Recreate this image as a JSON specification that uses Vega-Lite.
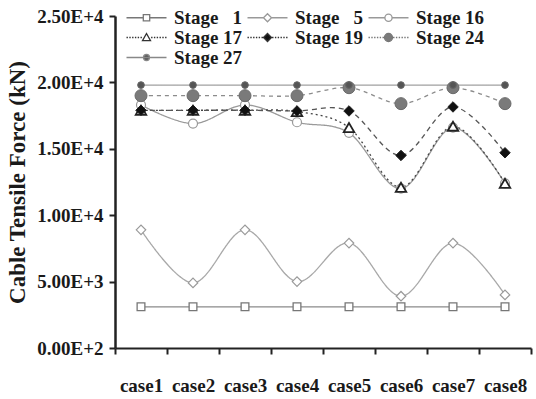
{
  "$schema": "https://vega.github.io/schema/vega-lite/v6.json",
  "width": 416,
  "height": 332,
  "autosize": {"type": "none"},
  "padding": {"left": 115, "top": 16, "right": 5, "bottom": 51},
  "background": "white",
  "config": {
    "view": {"stroke": null},
    "font": "Liberation Serif",
    "axis": {
      "labelFont": "Liberation Serif",
      "labelFontWeight": "bold",
      "labelFontSize": 19,
      "labelColor": "#1a1a1a",
      "titleFont": "Liberation Serif",
      "titleFontWeight": "bold",
      "titleColor": "#1a1a1a",
      "domainColor": "#222",
      "tickColor": "#222",
      "grid": false
    }
  },
  "data": {
    "values": [
      {"case": "case1", "stage": "Stage 1", "force": 3100},
      {"case": "case2", "stage": "Stage 1", "force": 3100},
      {"case": "case3", "stage": "Stage 1", "force": 3100},
      {"case": "case4", "stage": "Stage 1", "force": 3100},
      {"case": "case5", "stage": "Stage 1", "force": 3100},
      {"case": "case6", "stage": "Stage 1", "force": 3100},
      {"case": "case7", "stage": "Stage 1", "force": 3100},
      {"case": "case8", "stage": "Stage 1", "force": 3100},
      {"case": "case1", "stage": "Stage 5", "force": 8900},
      {"case": "case2", "stage": "Stage 5", "force": 4900},
      {"case": "case3", "stage": "Stage 5", "force": 8900},
      {"case": "case4", "stage": "Stage 5", "force": 5000},
      {"case": "case5", "stage": "Stage 5", "force": 7900},
      {"case": "case6", "stage": "Stage 5", "force": 3900},
      {"case": "case7", "stage": "Stage 5", "force": 7900},
      {"case": "case8", "stage": "Stage 5", "force": 4000},
      {"case": "case1", "stage": "Stage 16", "force": 18300},
      {"case": "case2", "stage": "Stage 16", "force": 16900},
      {"case": "case3", "stage": "Stage 16", "force": 18300},
      {"case": "case4", "stage": "Stage 16", "force": 17000},
      {"case": "case5", "stage": "Stage 16", "force": 16200},
      {"case": "case6", "stage": "Stage 16", "force": 12000},
      {"case": "case7", "stage": "Stage 16", "force": 16600},
      {"case": "case8", "stage": "Stage 16", "force": 12400},
      {"case": "case1", "stage": "Stage 17", "force": 17900},
      {"case": "case2", "stage": "Stage 17", "force": 17900},
      {"case": "case3", "stage": "Stage 17", "force": 17900},
      {"case": "case4", "stage": "Stage 17", "force": 17800},
      {"case": "case5", "stage": "Stage 17", "force": 16600},
      {"case": "case6", "stage": "Stage 17", "force": 12100},
      {"case": "case7", "stage": "Stage 17", "force": 16700},
      {"case": "case8", "stage": "Stage 17", "force": 12400},
      {"case": "case1", "stage": "Stage 19", "force": 17900},
      {"case": "case2", "stage": "Stage 19", "force": 17900},
      {"case": "case3", "stage": "Stage 19", "force": 17900},
      {"case": "case4", "stage": "Stage 19", "force": 17850},
      {"case": "case5", "stage": "Stage 19", "force": 17850},
      {"case": "case6", "stage": "Stage 19", "force": 14500},
      {"case": "case7", "stage": "Stage 19", "force": 18150},
      {"case": "case8", "stage": "Stage 19", "force": 14700},
      {"case": "case1", "stage": "Stage 24", "force": 19000},
      {"case": "case2", "stage": "Stage 24", "force": 19000},
      {"case": "case3", "stage": "Stage 24", "force": 19000},
      {"case": "case4", "stage": "Stage 24", "force": 19000},
      {"case": "case5", "stage": "Stage 24", "force": 19600},
      {"case": "case6", "stage": "Stage 24", "force": 18400},
      {"case": "case7", "stage": "Stage 24", "force": 19600},
      {"case": "case8", "stage": "Stage 24", "force": 18400},
      {"case": "case1", "stage": "Stage 27", "force": 19800},
      {"case": "case2", "stage": "Stage 27", "force": 19800},
      {"case": "case3", "stage": "Stage 27", "force": 19800},
      {"case": "case4", "stage": "Stage 27", "force": 19800},
      {"case": "case5", "stage": "Stage 27", "force": 19800},
      {"case": "case6", "stage": "Stage 27", "force": 19800},
      {"case": "case7", "stage": "Stage 27", "force": 19800},
      {"case": "case8", "stage": "Stage 27", "force": 19800}
    ]
  },
  "encoding": {
    "x": {
      "field": "case",
      "type": "nominal",
      "scale": {
        "type": "band",
        "paddingInner": 0,
        "paddingOuter": 0,
        "domain": ["case1", "case2", "case3", "case4", "case5", "case6", "case7", "case8"]
      },
      "axis": {
        "title": null,
        "labelAngle": 0,
        "tickBand": "extent",
        "tickSize": 6,
        "tickWidth": 2,
        "domainWidth": 2,
        "labelPadding": 22
      }
    },
    "y": {
      "field": "force",
      "type": "quantitative",
      "scale": {"domain": [0, 25000], "nice": false},
      "axis": {
        "title": "Cable Tensile Force (kN)",
        "titleFontSize": 23,
        "titlePadding": 7,
        "values": [0, 5000, 10000, 15000, 20000, 25000],
        "labelExpr": "datum.value == 0 ? '0.00E+2' : upper(format(datum.value, '.2e'))",
        "tickSize": 6,
        "tickWidth": 2,
        "domainWidth": 2.5,
        "labelPadding": 6
      }
    }
  },
  "layer": [
    {
      "mark": {"type": "line", "interpolate": "cardinal", "strokeWidth": 1.3},
      "encoding": {
        "detail": {"field": "stage"},
        "color": {
          "field": "stage",
          "type": "nominal",
          "legend": null,
          "scale": {
            "domain": ["Stage 27", "Stage 24", "Stage 19", "Stage 17", "Stage 16", "Stage 5", "Stage 1"],
            "range": ["#a0a0a0", "#8c8c8c", "#555555", "#444444", "#9a9a9a", "#a8a8a8", "#8a8a8a"]
          }
        },
        "strokeDash": {
          "field": "stage",
          "type": "nominal",
          "legend": null,
          "scale": {
            "domain": ["Stage 27", "Stage 24", "Stage 19", "Stage 17", "Stage 16", "Stage 5", "Stage 1"],
            "range": [[1, 0], [4, 4], [5, 4], [2, 3], [1, 0], [1, 0], [1, 0]]
          }
        }
      }
    },
    {
      "mark": {"type": "point", "opacity": 1},
      "encoding": {
        "opacity": {
          "field": "stage",
          "type": "ordinal",
          "scale": {
            "type": "ordinal",
            "domain": ["Stage 1", "Stage 5", "Stage 16", "Stage 17", "Stage 19", "Stage 24", "Stage 27"],
            "range": [1, 1, 1, 1, 1, 1, 1]
          },
          "legend": {
            "title": null,
            "orient": "none",
            "direction": "horizontal",
            "legendX": 22,
            "legendY": -8,
            "columns": 3,
            "gridAlign": "all",
            "columnPadding": 1,
            "rowPadding": 0,
            "symbolSize": 64,
            "symbolOffset": 0,
            "symbolStrokeWidth": 1.3,
            "symbolOpacity": 1,
            "symbolType": {"expr": "['M-5,0H-0.8M0.8,0H5M-0.8,-0.8H0.8V0.8H-0.8Z', 'M-5,0H-1M1,0H5M-1,0L0,-1L1,0L0,1Z', 'M-5,0H-0.9M0.9,0H5M0.9,0A0.9,0.9 0 1,1 -0.9,0A0.9,0.9 0 1,1 0.9,0Z', 'M-5,0h0.35M-4.3,0h0.35M-3.6,0h0.35M-2.9,0h0.35M-2.2,0h0.35M-1.5,0h0.35M1.15,0h0.35M1.85,0h0.35M2.55,0h0.35M3.25,0h0.35M3.95,0h0.35M4.65,0h0.35M0,-1L1,0.8H-1Z', 'M-5,0h0.35M-4.3,0h0.35M-3.6,0h0.35M-2.9,0h0.35M-2.2,0h0.35M-1.5,0h0.35M1.15,0h0.35M1.85,0h0.35M2.55,0h0.35M3.25,0h0.35M3.95,0h0.35M4.65,0h0.35M-1,0L0,-1L1,0L0,1Z', 'M-5,0h0.35M-4.3,0h0.35M-3.6,0h0.35M-2.9,0h0.35M-2.2,0h0.35M-1.5,0h0.35M1.15,0h0.35M1.85,0h0.35M2.55,0h0.35M3.25,0h0.35M3.95,0h0.35M4.65,0h0.35M1,0A1,1 0 1,1 -1,0A1,1 0 1,1 1,0Z', 'M-5,0H5M0.75,0A0.75,0.75 0 1,1 -0.75,0A0.75,0.75 0 1,1 0.75,0Z'][indexof(['Stage 1', 'Stage 5', 'Stage 16', 'Stage 17', 'Stage 19', 'Stage 24', 'Stage 27'], datum.value)]"},
            "symbolFillColor": {"expr": "['#ffffff', '#ffffff', '#ffffff', '#ffffff', '#111111', '#7a7a7a', '#555555'][indexof(['Stage 1', 'Stage 5', 'Stage 16', 'Stage 17', 'Stage 19', 'Stage 24', 'Stage 27'], datum.value)]"},
            "symbolStrokeColor": {"expr": "['#777777', '#999999', '#999999', '#333333', '#333333', '#777777', '#888888'][indexof(['Stage 1', 'Stage 5', 'Stage 16', 'Stage 17', 'Stage 19', 'Stage 24', 'Stage 27'], datum.value)]"},
            "labelOffset": 18,
            "labelFont": "Liberation Serif",
            "labelFontWeight": "bold",
            "labelFontSize": 19,
            "labelColor": "#1a1a1a",
            "labelLimit": 200,
            "labelExpr": "length(datum.label) < 8 ? 'Stage \u00a0\u00a0' + substring(datum.label, 6) : datum.label"
          }
        },
        "shape": {
          "field": "stage",
          "type": "nominal",
          "legend": null,
          "scale": {
            "domain": ["Stage 27", "Stage 24", "Stage 19", "Stage 17", "Stage 16", "Stage 5", "Stage 1"],
            "range": ["circle", "circle", "diamond", "triangle-up", "circle", "diamond", "square"]
          }
        },
        "size": {
          "field": "stage",
          "type": "ordinal",
          "legend": null,
          "scale": {
            "type": "ordinal",
            "domain": ["Stage 27", "Stage 24", "Stage 19", "Stage 17", "Stage 16", "Stage 5", "Stage 1"],
            "range": [45, 144, 110, 110, 81, 90, 60]
          }
        },
        "fill": {
          "field": "stage",
          "type": "nominal",
          "legend": null,
          "scale": {
            "domain": ["Stage 27", "Stage 24", "Stage 19", "Stage 17", "Stage 16", "Stage 5", "Stage 1"],
            "range": ["#555555", "#7a7a7a", "#111111", "#ffffff", "#ffffff", "#ffffff", "#ffffff"]
          }
        },
        "stroke": {
          "field": "stage",
          "type": "nominal",
          "legend": null,
          "scale": {
            "domain": ["Stage 27", "Stage 24", "Stage 19", "Stage 17", "Stage 16", "Stage 5", "Stage 1"],
            "range": ["#666666", "#6a6a6a", "#222222", "#222222", "#999999", "#999999", "#777777"]
          }
        },
        "strokeWidth": {
          "field": "stage",
          "type": "ordinal",
          "legend": null,
          "scale": {
            "type": "ordinal",
            "domain": ["Stage 27", "Stage 24", "Stage 19", "Stage 17", "Stage 16", "Stage 5", "Stage 1"],
            "range": [1, 1, 1, 1.8, 1.2, 1.2, 1.3]
          }
        }
      }
    }
  ]
}
